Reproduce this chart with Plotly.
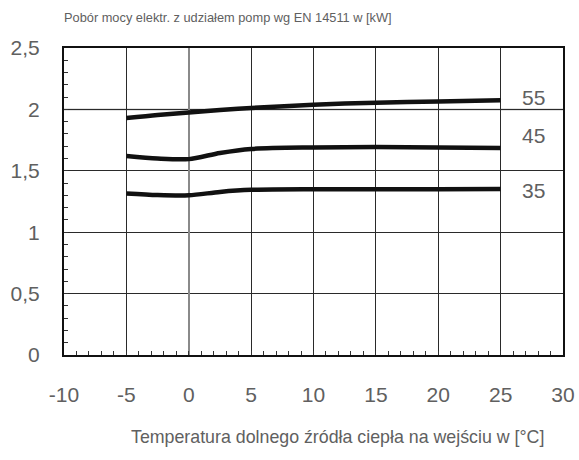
import plotly.graph_objects as go

temps = [-5, -2.5, 0, 2.5, 5, 10, 15, 20, 25]
p55 = [1.93, 1.955, 1.975, 1.995, 2.012, 2.038, 2.055, 2.065, 2.075]
p45 = [1.62, 1.60, 1.595, 1.645, 1.678, 1.69, 1.693, 1.69, 1.685]
p35 = [1.315, 1.302, 1.30, 1.328, 1.345, 1.35, 1.35, 1.35, 1.352]
series = [("55", p55, 2.1), ("45", p45, 1.79), ("35", p35, 1.34)]

x_ticks = [-10, -5, 0, 5, 10, 15, 20, 25, 30]
x_ticktext = ["-10", "-5", "0", "5", "10", "15", "20", "25", "30"]
y_ticks = [0, 0.5, 1, 1.5, 2, 2.5]
y_ticktext = ["0", "0,5", "1", "1,5", "2", "2,5"]

title = "Pobór mocy elektr. z udziałem pomp wg EN 14511 w [kW]"
xtitle = "Temperatura dolnego źródła ciepła na wejściu w [°C]"

font_fam = "Liberation Sans, Arial, sans-serif"
gray = "#606060"

W, H = 579, 460
L, R, T, B = 64, 16, 48, 105
pw, ph = W - L - R, H - T - B

fig = go.Figure()
for name, vals, ly in series:
    fig.add_trace(go.Scatter(x=temps, y=vals, mode="lines",
                             line=dict(color="#111111", width=4.5, shape="spline", smoothing=0.8),
                             name=name, showlegend=False, hoverinfo="skip"))
    fig.add_annotation(x=27.6, y=ly, text=name, showarrow=False, xref="x", yref="y",
                       font=dict(family=font_fam, size=21, color=gray))

fig.add_annotation(text=title, x=(62 - L) / pw, y=1 + (T - 18) / ph, xref="paper", yref="paper",
                   showarrow=False, xanchor="left", yanchor="middle",
                   font=dict(family=font_fam, size=12.8, color=gray))
fig.add_annotation(text=xtitle, x=(337 - L) / pw, y=-(437 - (H - B)) / ph, xref="paper", yref="paper",
                   showarrow=False, xanchor="center", yanchor="middle",
                   font=dict(family=font_fam, size=17.8, color=gray))

fig.add_shape(type="line", xref="paper", yref="y", x0=0, x1=1, y0=2, y1=2,
              line=dict(color="#8a8a8a", width=1.5), layer="below")

fig.update_layout(
    width=W, height=H,
    margin=dict(l=L, r=R, t=T, b=B, autoexpand=False),
    paper_bgcolor="white", plot_bgcolor="white",
    showlegend=False,
)

fig.update_xaxes(
    range=[-10, 30], tickvals=x_ticks, ticktext=x_ticktext,
    showgrid=True, gridcolor="#2a2a2a", gridwidth=1,
    zeroline=True, zerolinecolor="#8a8a8a", zerolinewidth=1.5,
    showline=True, linecolor="#111111", linewidth=2, mirror=True,
    ticks="inside", ticklen=4, tickcolor="#333333",
    minor=dict(dtick=1, ticks="inside", ticklen=4, tickcolor="#333333", showgrid=False),
    tickfont=dict(family=font_fam, size=21, color=gray),
    ticklabelstandoff=20, automargin=False,
)
fig.update_yaxes(
    range=[0, 2.5], tickvals=y_ticks, ticktext=y_ticktext,
    showgrid=True, gridcolor="#2a2a2a", gridwidth=1,
    showline=True, linecolor="#111111", linewidth=2, mirror=True,
    ticks="inside", ticklen=4, tickcolor="#333333",
    minor=dict(dtick=0.1, ticks="inside", ticklen=4, tickcolor="#333333", showgrid=False),
    tickfont=dict(family=font_fam, size=21, color=gray),
    ticklabelstandoff=18, zeroline=False, automargin=False,
)

fig.write_html("out.html", config=dict(displayModeBar=False, responsive=False),
               post_script="document.body.style.margin='0';")
